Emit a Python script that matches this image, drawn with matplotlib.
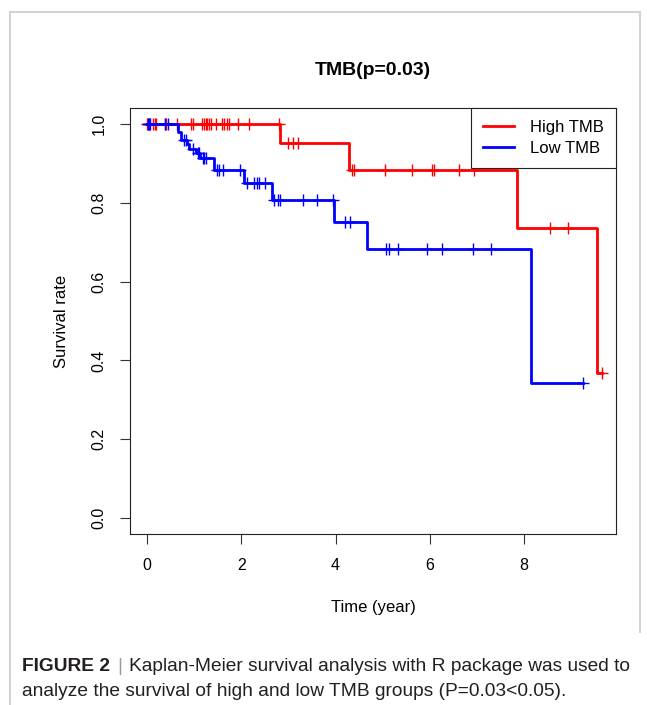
# Kaplan-Meier curves for high / low TMB groups
import numpy as np
import matplotlib.pyplot as plt
from matplotlib.lines import Line2D

plt.rcParams['font.family'] = ['Liberation Sans', 'DejaVu Sans']

# High TMB group: step drops and censored times (years)
high_event_times = [2.83, 4.28, 7.84, 9.55]
high_surv = [0.951, 0.884, 0.737, 0.367]
high_censor_times = [0.01, 0.03, 0.05, 0.12, 0.16, 0.19, 0.38, 0.40, 0.63,
                     0.93, 0.97, 1.16, 1.21, 1.26, 1.28, 1.31, 1.35, 1.47,
                     1.59, 1.63, 1.70, 1.75, 1.94, 2.16, 2.80, 3.00, 3.10,
                     3.20, 4.36, 4.40, 5.05, 5.63, 6.04, 6.09, 6.62, 6.94,
                     8.54, 8.93, 9.65]
high_end = 9.65

# Low TMB group
low_event_times = [0.65, 0.72, 0.85, 0.90, 1.03, 1.12, 1.43, 2.06, 2.66,
                   3.96, 4.66, 8.15]
low_surv = [0.979, 0.959, 0.948, 0.937, 0.925, 0.913, 0.883, 0.851, 0.808,
            0.750, 0.683, 0.342]
low_censor_times = [0.02, 0.05, 0.07, 0.38, 0.45, 0.78, 0.83, 0.98, 1.08,
                    1.11, 1.18, 1.21, 1.25, 1.48, 1.53, 1.62, 1.98, 2.12,
                    2.26, 2.33, 2.37, 2.50, 2.69, 2.78, 2.83, 3.31, 3.60,
                    3.95, 4.21, 4.30, 5.08, 5.13, 5.33, 5.94, 6.26, 6.92,
                    7.30, 9.26]
low_end = 9.26

x_ticks = [0, 2, 4, 6, 8]
y_ticks = [0.0, 0.2, 0.4, 0.6, 0.8, 1.0]
labels = ['High TMB', 'Low TMB']
colors = ['#ff0000', '#0000ff']


def surv_at(t, times, surv):
    s = 1.0
    for et, sv in zip(times, surv):
        if et <= t:
            s = sv
    return s


W, H = 647, 705
fig = plt.figure(figsize=(W / 100, H / 100), dpi=100)
ax = fig.add_axes([130 / W, 1 - 534 / H, 486 / W, 426 / H])

groups = [(high_event_times, high_surv, high_censor_times, high_end),
          (low_event_times, low_surv, low_censor_times, low_end)]
for (times, surv, cens, end), c in zip(groups, colors):
    xs = [0] + times + [end]
    ys = [1.0] + surv + [surv[-1]]
    ax.plot(xs, ys, drawstyle='steps-post', color=c, lw=2)
    cy = [surv_at(t, times, surv) for t in cens]
    ax.plot(cens, cy, ls='none', marker='+', ms=9, mew=1.0, color=c)

ax.set_xlim(-0.36, 9.95)
ax.set_ylim(-0.04, 1.04)
ax.set_xticks(x_ticks)
ax.set_xticklabels([str(v) for v in x_ticks])
ax.set_yticks(y_ticks)
ax.set_yticklabels(['%.1f' % v for v in y_ticks], rotation=90, va='center')
ax.tick_params(length=7, width=0.8, color='#333333', labelsize=11.5, pad=10)
for sp in ax.spines.values():
    sp.set_linewidth(0.8)
    sp.set_color('#222222')

ax.set_xlabel('Time (year)', fontsize=12, labelpad=20)
ax.set_ylabel('Survival rate', fontsize=12, labelpad=16)
ax.set_title('TMB(p=0.03)', fontsize=14, fontweight='bold', pad=24)

handles = [Line2D([], [], color=c, lw=2) for c in colors]
leg = ax.legend(handles, labels, loc='upper right', borderaxespad=0,
                fancybox=False, framealpha=1, edgecolor='#222222',
                fontsize=12, handlelength=1.9, handletextpad=0.95,
                labelspacing=0.35, borderpad=0.72)
leg.get_frame().set_linewidth(0.8)

# outer figure border
border = dict(color='#d3d3d3', lw=1.5, transform=fig.transFigure)
fig.add_artist(Line2D([10 / W, 10 / W], [0, 1 - 12 / H], **border))
fig.add_artist(Line2D([10 / W, 640 / W], [1 - 12 / H, 1 - 12 / H], **border))
fig.add_artist(Line2D([640 / W, 640 / W], [1 - 12 / H, 1 - 632 / H], **border))

# caption
cap_size = 13.8
t1 = fig.text(22 / W, 1 - 671 / H, 'FIGURE 2', fontsize=cap_size,
              fontweight='bold', color='#231f20', va='baseline')
bar = plt.annotate('|', xy=(1, 0), xycoords=t1, xytext=(5, 0),
                   textcoords='offset points', fontsize=cap_size,
                   color='#999999', va='bottom')
rest = plt.annotate('Kaplan-Meier survival analysis with R package was used to',
                    xy=(1, 0), xycoords=bar, xytext=(5, 0),
                    textcoords='offset points', fontsize=cap_size,
                    color='#231f20', va='bottom')
fig.text(22 / W, 1 - 696 / H,
         'analyze the survival of high and low TMB groups (P=0.03<0.05).',
         fontsize=cap_size, color='#231f20', va='baseline')

fig.savefig('out.png', dpi=100)
